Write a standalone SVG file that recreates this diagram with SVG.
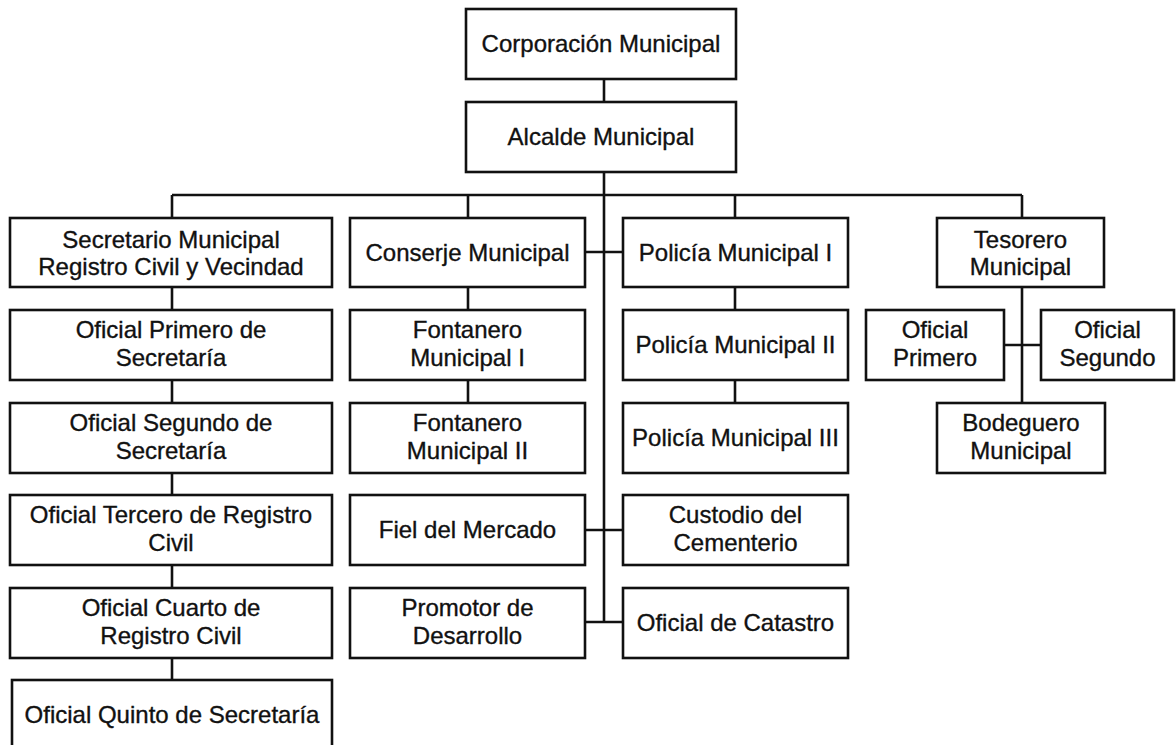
<svg xmlns="http://www.w3.org/2000/svg" width="1176" height="745" viewBox="0 0 1176 745">
<style>
.box rect{fill:#fff;stroke:#111;stroke-width:2.6}
.box text{font-family:"Liberation Sans",Arial,sans-serif;font-size:24px;fill:#111;stroke:#111;stroke-width:0.35;text-anchor:middle}
#connectors path{fill:none;stroke:#111;stroke-width:2.6}
</style>
<rect width="1176" height="745" fill="#fff"/>
<g id="connectors">
<path d="M604 79V102"/>
<path d="M604 172V622"/>
<path d="M172 195H1022"/>
<path d="M172 195V218M468 195V218M735 195V218M1022 195V218"/>
<path d="M585 252H623M585 530H623M585 622H623"/>
<path d="M172 287V310M172 380V403M172 473V495M172 565V588M172 658V680"/>
<path d="M468 287V310M468 380V403"/>
<path d="M735 287V310M735 380V403"/>
<path d="M1022 287V403M1004 345H1041"/>
</g>
<g id="corporacion" class="box"><rect x="466" y="9" width="270" height="70"/><text x="601" y="52">Corporación Municipal</text></g>
<g id="alcalde" class="box"><rect x="466" y="102" width="270" height="70"/><text x="601" y="145">Alcalde Municipal</text></g>
<g id="secretario" class="box"><rect x="10" y="218" width="322" height="69"/><text x="171" y="248">Secretario Municipal</text><text x="171" y="275">Registro Civil y Vecindad</text></g>
<g id="oficial-primero-sec" class="box"><rect x="10" y="310" width="322" height="70"/><text x="171" y="338">Oficial Primero de</text><text x="171" y="366">Secretaría</text></g>
<g id="oficial-segundo-sec" class="box"><rect x="10" y="403" width="322" height="70"/><text x="171" y="431">Oficial Segundo de</text><text x="171" y="459">Secretaría</text></g>
<g id="oficial-tercero" class="box"><rect x="10" y="495" width="322" height="70"/><text x="171" y="523">Oficial Tercero de Registro</text><text x="171" y="551">Civil</text></g>
<g id="oficial-cuarto" class="box"><rect x="10" y="588" width="322" height="70"/><text x="171" y="616">Oficial Cuarto de</text><text x="171" y="644">Registro Civil</text></g>
<g id="oficial-quinto" class="box"><rect x="12" y="680" width="320" height="80"/><text x="172" y="723">Oficial Quinto de Secretaría</text></g>
<g id="conserje" class="box"><rect x="350" y="218" width="235" height="69"/><text x="467.5" y="261">Conserje Municipal</text></g>
<g id="fontanero1" class="box"><rect x="350" y="310" width="235" height="70"/><text x="467.5" y="338">Fontanero</text><text x="467.5" y="366">Municipal I</text></g>
<g id="fontanero2" class="box"><rect x="350" y="403" width="235" height="70"/><text x="467.5" y="431">Fontanero</text><text x="467.5" y="459">Municipal II</text></g>
<g id="fiel" class="box"><rect x="350" y="495" width="235" height="70"/><text x="467.5" y="538">Fiel del Mercado</text></g>
<g id="promotor" class="box"><rect x="350" y="588" width="235" height="70"/><text x="467.5" y="616">Promotor de</text><text x="467.5" y="644">Desarrollo</text></g>
<g id="policia1" class="box"><rect x="623" y="218" width="225" height="69"/><text x="735.5" y="261">Policía Municipal I</text></g>
<g id="policia2" class="box"><rect x="623" y="310" width="225" height="70"/><text x="735.5" y="353">Policía Municipal II</text></g>
<g id="policia3" class="box"><rect x="623" y="403" width="225" height="70"/><text x="735.5" y="446">Policía Municipal III</text></g>
<g id="custodio" class="box"><rect x="623" y="495" width="225" height="70"/><text x="735.5" y="523">Custodio del</text><text x="735.5" y="551">Cementerio</text></g>
<g id="catastro" class="box"><rect x="623" y="588" width="225" height="70"/><text x="735.5" y="631">Oficial de Catastro</text></g>
<g id="tesorero" class="box"><rect x="937" y="218" width="167" height="69"/><text x="1020.5" y="248">Tesorero</text><text x="1020.5" y="275">Municipal</text></g>
<g id="oficial-primero" class="box"><rect x="866" y="310" width="138" height="70"/><text x="935" y="338">Oficial</text><text x="935" y="366">Primero</text></g>
<g id="oficial-segundo" class="box"><rect x="1041" y="310" width="133" height="70"/><text x="1107.5" y="338">Oficial</text><text x="1107.5" y="366">Segundo</text></g>
<g id="bodeguero" class="box"><rect x="937" y="403" width="168" height="70"/><text x="1021" y="431">Bodeguero</text><text x="1021" y="459">Municipal</text></g>
</svg>
